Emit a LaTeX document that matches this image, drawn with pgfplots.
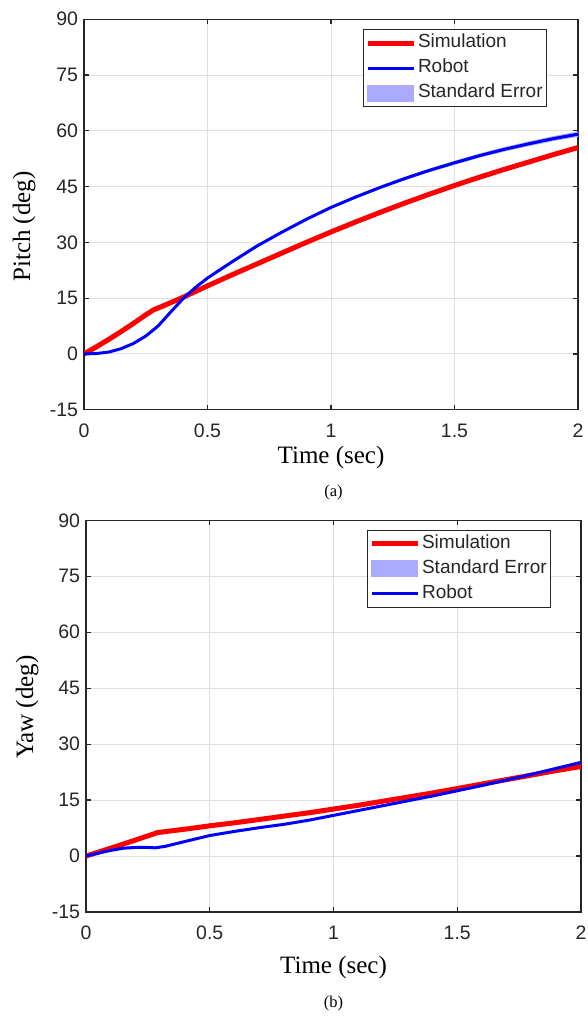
\documentclass[border=0pt]{standalone}
\usepackage{pgfplots}
\pgfplotsset{compat=1.18}
\usepackage{fontspec}
\setmainfont{Liberation Serif}
\setsansfont{Liberation Sans}

\definecolor{axgray}{HTML}{262626}
\definecolor{gridgray}{HTML}{DFDFDF}
\definecolor{simred}{HTML}{FF0000}
\definecolor{robblue}{HTML}{0000FF}
\definecolor{bandblue}{HTML}{AAAAFF}

\pgfplotsset{
  mystyle/.style={
    scale only axis,
    xmin=0, xmax=2, ymin=-15, ymax=90,
    xtick={0,0.5,1,1.5,2}, xticklabels={0,0.5,1,1.5,2},
    ytick={-15,0,15,30,45,60,75,90}, yticklabels={-15,0,15,30,45,60,75,90},
    grid=major,
    major grid style={gridgray, line width=0.9pt},
    axis line style={axgray, line width=1.2pt},
    tick style={axgray, line width=1.2pt},
    major tick length=5pt,
    tick align=inside,
    tick label style={font=\fontsize{19.5}{20}\selectfont\sffamily, text=axgray},
    xticklabel style={yshift=-10.5pt},
    yticklabel style={xshift=-2.5pt},
    label style={font=\fontsize{25}{26}\selectfont},
    legend image code/.code={\draw[#1] (0pt,0pt) -- (46pt,0pt);},
    legend cell align=left,
    legend style={draw=axgray, line width=0.8pt, fill=white,
      font=\fontsize{19}{20}\selectfont\sffamily, text=axgray,
      inner xsep=2pt, inner ysep=1pt,
      nodes={inner xsep=2pt, inner ysep=3.2pt, text height=14pt, text depth=4.5pt}},
  },
  simstyle/.style={simred, line width=5pt},
  robstyle/.style={robblue, line width=3pt},
}

\begin{document}
\begin{tikzpicture}
\useasboundingbox (0,0) rectangle (587pt,1019pt);

% ---------------- (a) Pitch ----------------
\begin{axis}[mystyle,
  at={(84pt,609.3pt)}, anchor=south west,
  width=494pt, height=390.4pt,
  xlabel={Time (sec)}, ylabel={Pitch (deg)},
  xlabel style={at={(axis description cs:0.5,0)}, anchor=base, yshift=-53.6pt},
  ylabel style={at={(axis description cs:-0.1093,0.469)}, rotate=0, anchor=base},
  legend style={at={(0.564,0.9744)}, anchor=north west},
]
\addplot[fill=bandblue, draw=none, forget plot] coordinates {
(0.4,14.94) (0.5,20.58) (0.6,25.01) (0.7,29.25) (0.8,32.98) (0.9,36.52) (1.0,39.75)
(1.1,42.59) (1.2,45.22) (1.3,47.66) (1.4,49.89) (1.5,51.93) (1.6,53.86) (1.7,55.60)
(1.8,57.13) (1.9,58.57) (2.0,59.80)
(2.0,58.40) (1.9,57.23) (1.8,55.87) (1.7,54.40) (1.6,52.74) (1.5,50.87) (1.4,48.91)
(1.3,46.74) (1.2,44.38) (1.1,41.81) (1.0,39.05) (0.9,35.88) (0.8,32.42) (0.7,28.75)
(0.6,24.59) (0.5,20.22) (0.4,14.66)
} -- cycle;
\addplot[simstyle] coordinates {
(0,0) (0.05,1.9) (0.1,3.9) (0.15,6.0) (0.2,8.2) (0.25,10.5) (0.28,11.8) (0.32,12.9)
(0.4,15.2) (0.5,18.3) (0.6,21.3) (0.7,24.2) (0.8,27.1) (0.9,30.0) (1.0,32.8)
(1.1,35.5) (1.2,38.1) (1.3,40.6) (1.4,43.0) (1.5,45.3) (1.6,47.5) (1.7,49.6)
(1.8,51.6) (1.9,53.6) (2.0,55.5)
};
\addlegendentry{Simulation}
\addplot[robstyle] coordinates {
(0,0) (0.05,0.1) (0.1,0.5) (0.15,1.4) (0.2,2.8) (0.25,4.8) (0.3,7.5) (0.35,11.2)
(0.4,14.8) (0.45,17.8) (0.5,20.4) (0.6,24.8) (0.7,29.0) (0.8,32.7) (0.9,36.2)
(1.0,39.4) (1.1,42.2) (1.2,44.8) (1.3,47.2) (1.4,49.4) (1.5,51.4) (1.6,53.3)
(1.7,55.0) (1.8,56.5) (1.9,57.9) (2.0,59.1)
};
\addlegendentry{Robot}
\addlegendimage{legend image code/.code={\fill[bandblue] (0pt,-8pt) rectangle (46pt,8pt);}}
\addlegendentry{Standard Error}
\end{axis}

% ---------------- (b) Yaw ----------------
\begin{axis}[mystyle,
  at={(86pt,107pt)}, anchor=south west,
  width=495pt, height=391.7pt,
  xlabel={Time (sec)}, ylabel={Yaw (deg)},
  xlabel style={at={(axis description cs:0.5,0)}, anchor=base, yshift=-61pt},
  ylabel style={at={(axis description cs:-0.107,0.523)}, rotate=0, anchor=base},
  legend style={at={(0.567,0.975)}, anchor=north west},
]
\addplot[fill=bandblue, draw=none, forget plot] coordinates {
(0.5,5.6) (0.6,6.72) (0.7,7.74) (0.8,8.66) (0.9,9.78) (1.0,11.1) (1.1,12.42) (1.2,13.74)
(1.3,15.06) (1.4,16.38) (1.5,17.8) (1.6,19.22) (1.7,20.74) (1.8,22.26) (1.9,23.88) (2.0,25.5)
(2.0,24.7) (1.9,23.12) (1.8,21.54) (1.7,20.06) (1.6,18.58) (1.5,17.2) (1.4,15.82) (1.3,14.54)
(1.2,13.26) (1.1,11.98) (1.0,10.7) (0.9,9.42) (0.8,8.34) (0.7,7.46) (0.6,6.48) (0.5,5.4)
} -- cycle;
\addplot[simstyle] coordinates {
(0,0) (0.1,2.1) (0.2,4.3) (0.29,6.3) (0.4,7.2) (0.5,8.1) (0.6,8.9) (0.7,9.8)
(0.8,10.7) (0.9,11.6) (1.0,12.6) (1.1,13.6) (1.2,14.7) (1.3,15.8) (1.4,16.9)
(1.5,18.1) (1.6,19.3) (1.7,20.5) (1.8,21.7) (1.9,22.9) (2.0,24.0)
};
\addlegendentry{Simulation}
\addlegendimage{legend image code/.code={\fill[bandblue] (0pt,-8pt) rectangle (46pt,8pt);}}
\addlegendentry{Standard Error}
\addplot[robstyle] coordinates {
(0,0) (0.05,0.8) (0.1,1.5) (0.15,2.1) (0.2,2.3) (0.25,2.3) (0.28,2.2) (0.32,2.6)
(0.4,3.9) (0.5,5.5) (0.6,6.6) (0.7,7.6) (0.8,8.5) (0.9,9.6) (1.0,10.9) (1.1,12.2)
(1.2,13.5) (1.3,14.8) (1.4,16.1) (1.5,17.5) (1.6,18.9) (1.7,20.4) (1.8,21.9)
(1.9,23.5) (2.0,25.1)
};
\addlegendentry{Robot}
\end{axis}

\node[anchor=base, font=\fontsize{16.5}{17}\selectfont] at (333.5pt,522.6pt) {(a)};
\node[anchor=base, font=\fontsize{16.5}{17}\selectfont] at (333.5pt,12pt) {(b)};
\end{tikzpicture}
\end{document}
